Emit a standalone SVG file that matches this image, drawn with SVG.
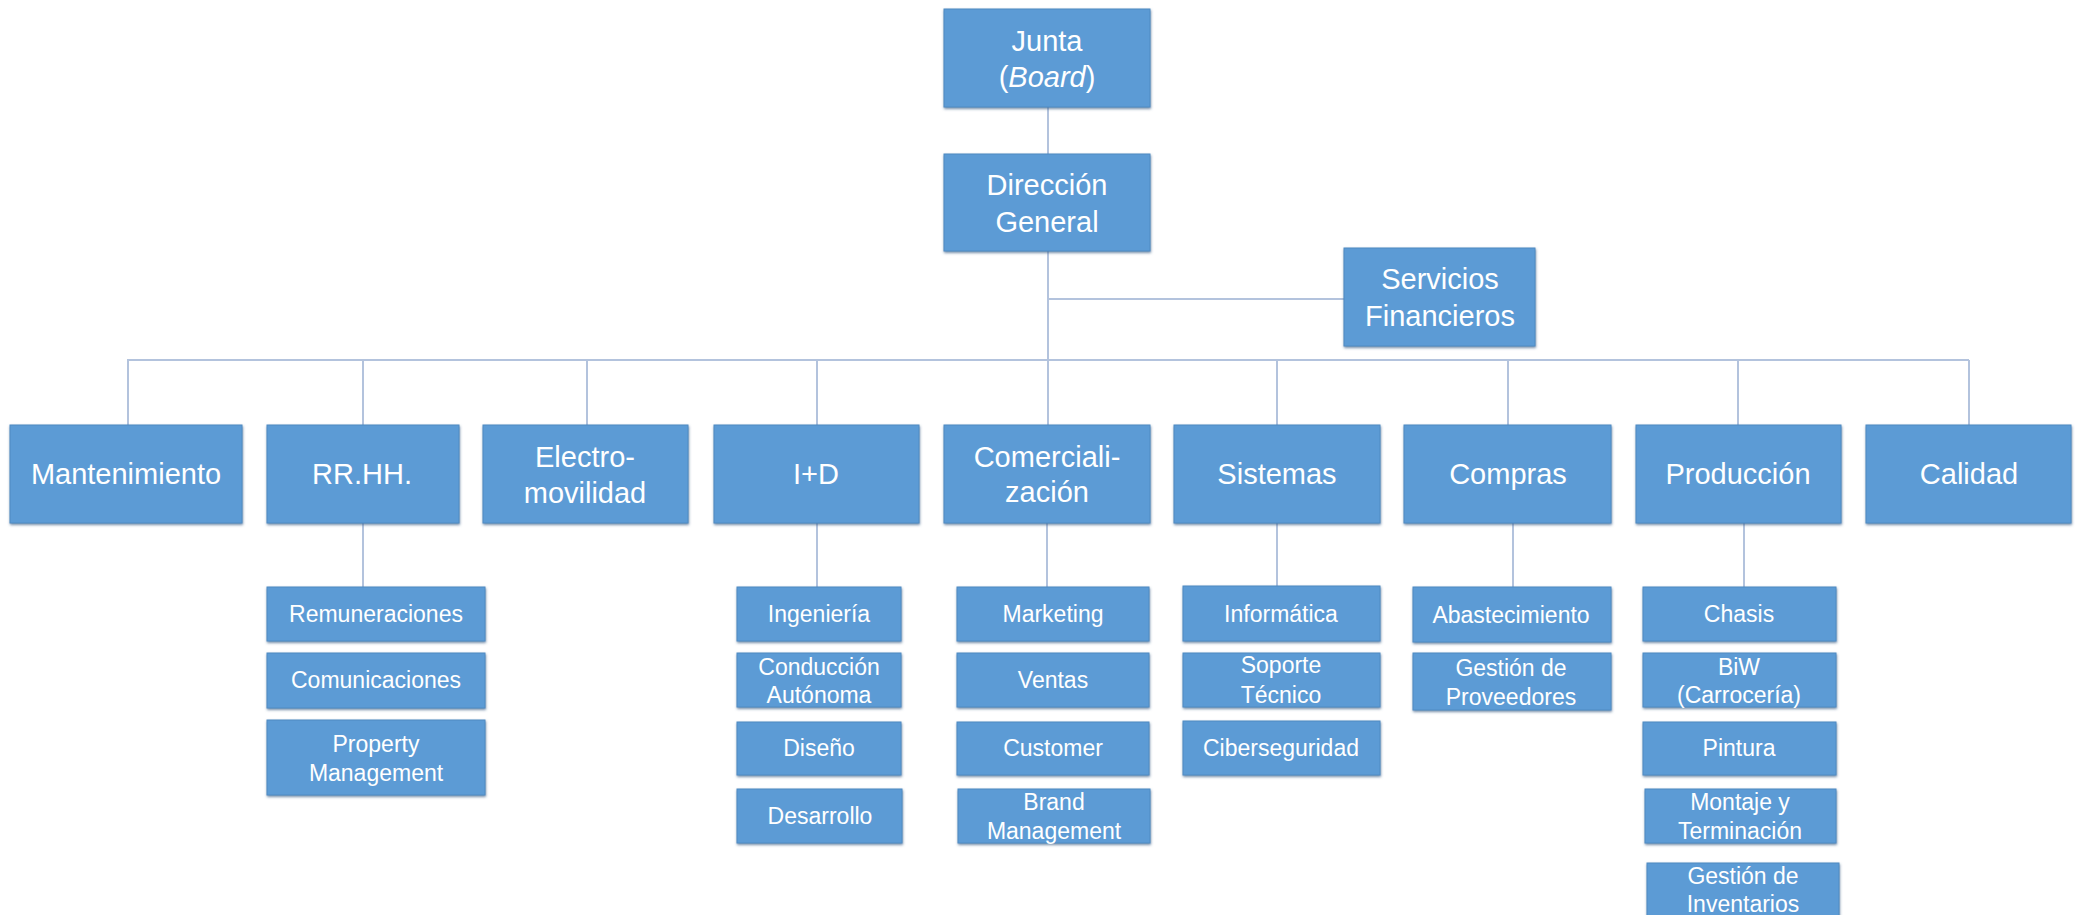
<svg xmlns="http://www.w3.org/2000/svg" width="2078" height="915" viewBox="0 0 2078 915">
  <defs>
    <filter id="shadow" x="-5%" y="-5%" width="110%" height="120%">
      <feDropShadow dx="0.5" dy="1.5" stdDeviation="1" flood-color="#3d5f85" flood-opacity="0.7"/>
    </filter>
  </defs>
  <style>
    .box { fill: #5b9bd5; stroke: #4f8ac2; stroke-width: 1; filter: url(#shadow); }
    .lbl { fill: #ffffff; font-family: "Liberation Sans", Arial, sans-serif; text-anchor: middle; }
    .big { font-size: 29px; }
    .small { font-size: 23px; }
    .conn { stroke: #b3c3dd; stroke-width: 2; fill: none; }
  </style>
  <rect width="2078" height="915" fill="#ffffff"/>

  <!-- connectors -->
  <g id="connectors" class="conn">
    <line x1="1048" y1="107" x2="1048" y2="154"/>
    <line x1="1048" y1="251" x2="1048" y2="360"/>
    <line x1="1048" y1="299" x2="1344" y2="299"/>
    <line x1="127" y1="360" x2="1969" y2="360"/>
    <line x1="128" y1="360" x2="128" y2="425"/>
    <line x1="363" y1="360" x2="363" y2="425"/>
    <line x1="587" y1="360" x2="587" y2="425"/>
    <line x1="817" y1="360" x2="817" y2="425"/>
    <line x1="1048" y1="360" x2="1048" y2="425"/>
    <line x1="1277" y1="360" x2="1277" y2="425"/>
    <line x1="1508" y1="360" x2="1508" y2="425"/>
    <line x1="1738" y1="360" x2="1738" y2="425"/>
    <line x1="1969" y1="360" x2="1969" y2="425"/>
    <line x1="363" y1="523" x2="363" y2="587"/>
    <line x1="817" y1="523" x2="817" y2="587"/>
    <line x1="1047" y1="523" x2="1047" y2="587"/>
    <line x1="1277" y1="523" x2="1277" y2="586"/>
    <line x1="1513" y1="523" x2="1513" y2="587"/>
    <line x1="1744" y1="523" x2="1744" y2="587"/>
  </g>

  <!-- top levels -->
  <g id="junta">
    <rect class="box" x="944" y="9" width="206" height="98"/>
    <text class="lbl big" x="1047" y="51">Junta</text>
    <text class="lbl big" x="1047" y="87">(<tspan font-style="italic">Board</tspan>)</text>
  </g>
  <g id="direccion-general">
    <rect class="box" x="944" y="154" width="206" height="97"/>
    <text class="lbl big" x="1047" y="195">Dirección</text>
    <text class="lbl big" x="1047" y="232">General</text>
  </g>
  <g id="servicios-financieros">
    <rect class="box" x="1344" y="248" width="191" height="98"/>
    <text class="lbl big" x="1440" y="289">Servicios</text>
    <text class="lbl big" x="1440" y="326">Financieros</text>
  </g>

  <!-- departments -->
  <g id="mantenimiento">
    <rect class="box" x="10" y="425" width="232" height="98"/>
    <text class="lbl big" x="126" y="484">Mantenimiento</text>
  </g>
  <g id="rrhh">
    <rect class="box" x="267" y="425" width="192" height="98"/>
    <text class="lbl big" x="362" y="484">RR.HH.</text>
  </g>
  <g id="electromovilidad">
    <rect class="box" x="483" y="425" width="205" height="98"/>
    <text class="lbl big" x="585" y="467">Electro-</text>
    <text class="lbl big" x="585" y="503">movilidad</text>
  </g>
  <g id="i-d">
    <rect class="box" x="714" y="425" width="205" height="98"/>
    <text class="lbl big" x="816" y="484">I+D</text>
  </g>
  <g id="comercializacion">
    <rect class="box" x="944" y="425" width="206" height="98"/>
    <text class="lbl big" x="1047" y="467">Comerciali-</text>
    <text class="lbl big" x="1047" y="502">zación</text>
  </g>
  <g id="sistemas">
    <rect class="box" x="1174" y="425" width="206" height="98"/>
    <text class="lbl big" x="1277" y="484">Sistemas</text>
  </g>
  <g id="compras">
    <rect class="box" x="1404" y="425" width="207" height="98"/>
    <text class="lbl big" x="1508" y="484">Compras</text>
  </g>
  <g id="produccion">
    <rect class="box" x="1636" y="425" width="205" height="98"/>
    <text class="lbl big" x="1738" y="484">Producción</text>
  </g>
  <g id="calidad">
    <rect class="box" x="1866" y="425" width="205" height="98"/>
    <text class="lbl big" x="1969" y="484">Calidad</text>
  </g>

  <!-- RR.HH. units -->
  <g id="remuneraciones">
    <rect class="box" x="267" y="587" width="218" height="54"/>
    <text class="lbl small" x="376" y="622">Remuneraciones</text>
  </g>
  <g id="comunicaciones">
    <rect class="box" x="267" y="653" width="218" height="55"/>
    <text class="lbl small" x="376" y="688">Comunicaciones</text>
  </g>
  <g id="property-management">
    <rect class="box" x="267" y="720" width="218" height="75"/>
    <text class="lbl small" x="376" y="752">Property</text>
    <text class="lbl small" x="376" y="781">Management</text>
  </g>

  <!-- I+D units -->
  <g id="ingenieria">
    <rect class="box" x="737" y="587" width="164" height="54"/>
    <text class="lbl small" x="819" y="622">Ingeniería</text>
  </g>
  <g id="conduccion-autonoma">
    <rect class="box" x="737" y="653" width="164" height="54"/>
    <text class="lbl small" x="819" y="675">Conducción</text>
    <text class="lbl small" x="819" y="703">Autónoma</text>
  </g>
  <g id="diseno">
    <rect class="box" x="737" y="722" width="164" height="53"/>
    <text class="lbl small" x="819" y="756">Diseño</text>
  </g>
  <g id="desarrollo">
    <rect class="box" x="737" y="789" width="165" height="54"/>
    <text class="lbl small" x="820" y="824">Desarrollo</text>
  </g>

  <!-- Comercialización units -->
  <g id="marketing">
    <rect class="box" x="957" y="587" width="192" height="54"/>
    <text class="lbl small" x="1053" y="622">Marketing</text>
  </g>
  <g id="ventas">
    <rect class="box" x="957" y="653" width="192" height="54"/>
    <text class="lbl small" x="1053" y="688">Ventas</text>
  </g>
  <g id="customer">
    <rect class="box" x="957" y="722" width="192" height="53"/>
    <text class="lbl small" x="1053" y="756">Customer</text>
  </g>
  <g id="brand-management">
    <rect class="box" x="958" y="789" width="192" height="54"/>
    <text class="lbl small" x="1054" y="810">Brand</text>
    <text class="lbl small" x="1054" y="839">Management</text>
  </g>

  <!-- Sistemas units -->
  <g id="informatica">
    <rect class="box" x="1183" y="586" width="197" height="55"/>
    <text class="lbl small" x="1281" y="622">Informática</text>
  </g>
  <g id="soporte-tecnico">
    <rect class="box" x="1183" y="653" width="197" height="54"/>
    <text class="lbl small" x="1281" y="673">Soporte</text>
    <text class="lbl small" x="1281" y="703">Técnico</text>
  </g>
  <g id="ciberseguridad">
    <rect class="box" x="1183" y="721" width="197" height="54"/>
    <text class="lbl small" x="1281" y="756">Ciberseguridad</text>
  </g>

  <!-- Compras units -->
  <g id="abastecimiento">
    <rect class="box" x="1413" y="587" width="198" height="55"/>
    <text class="lbl small" x="1511" y="623">Abastecimiento</text>
  </g>
  <g id="gestion-proveedores">
    <rect class="box" x="1413" y="653" width="198" height="57"/>
    <text class="lbl small" x="1511" y="676">Gestión de</text>
    <text class="lbl small" x="1511" y="705">Proveedores</text>
  </g>

  <!-- Producción units -->
  <g id="chasis">
    <rect class="box" x="1643" y="587" width="193" height="54"/>
    <text class="lbl small" x="1739" y="622">Chasis</text>
  </g>
  <g id="biw">
    <rect class="box" x="1643" y="653" width="193" height="54"/>
    <text class="lbl small" x="1739" y="675">BiW</text>
    <text class="lbl small" x="1739" y="703">(Carrocería)</text>
  </g>
  <g id="pintura">
    <rect class="box" x="1643" y="722" width="193" height="53"/>
    <text class="lbl small" x="1739" y="756">Pintura</text>
  </g>
  <g id="montaje-terminacion">
    <rect class="box" x="1645" y="789" width="191" height="54"/>
    <text class="lbl small" x="1740" y="810">Montaje y</text>
    <text class="lbl small" x="1740" y="839">Terminación</text>
  </g>
  <g id="gestion-inventarios">
    <rect class="box" x="1647" y="863" width="192" height="60"/>
    <text class="lbl small" x="1743" y="884">Gestión de</text>
    <text class="lbl small" x="1743" y="912">Inventarios</text>
  </g>
</svg>
